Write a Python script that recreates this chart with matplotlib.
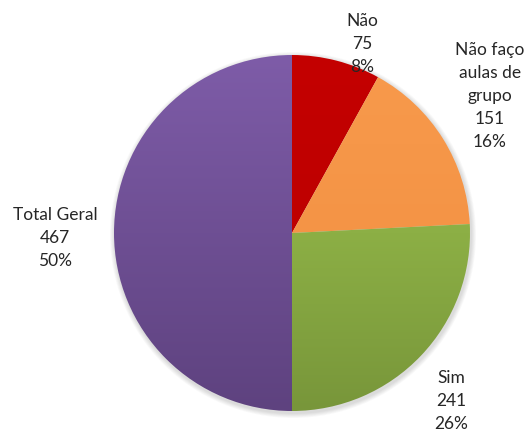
import numpy as np
import matplotlib.pyplot as plt
from matplotlib.colors import LinearSegmentedColormap

categorias = ["Não", "Não faço\naulas de\ngrupo", "Sim", "Total Geral"]
valores = [75, 151, 241, 467]
cores_topo = ["#C40000", "#F89A4C", "#A0C850", "#7E5CA8"]
cores_base = ["#B80000", "#F08E40", "#78963A", "#5E427F"]

# posicao dos rotulos (pixels, a partir do topo)
pos_rotulos = [(362, 44), (490, 96), (451, 401), (55, 238)]

plt.rcParams["font.family"] = ["Lato", "DejaVu Sans"]

fig = plt.figure(figsize=(5.3, 4.32), dpi=100)
ax = fig.add_axes([0, 0, 1, 1])

cx, cy, r = 292, 432 - 233, 178
fatias, _ = ax.pie(valores, center=(cx, cy), radius=r, startangle=90,
                   counterclock=False, frame=True)
ax.set_xlim(0, 530)
ax.set_ylim(0, 432)
ax.set_aspect("equal")
ax.axis("off")

# sombra leve atras da pizza
for k in range(6):
    ax.add_patch(plt.Circle((cx + 1, cy - 2), r + 1 + k * 0.8,
                            color="black", alpha=0.025, lw=0, zorder=0))

# degrade vertical em cada fatia (mais claro em cima)
grad = np.linspace(0, 1, 256).reshape(-1, 1)
for fatia, c1, c2 in zip(fatias, cores_topo, cores_base):
    fatia.set_facecolor("none")
    fatia.set_edgecolor("none")
    cmap = LinearSegmentedColormap.from_list("g", [c2, c1])
    im = ax.imshow(grad, cmap=cmap, extent=(cx - r, cx + r, cy - r, cy + r),
                   aspect="auto", origin="lower", zorder=1)
    im.set_clip_path(fatia)

total = sum(valores)
for nome, v, (x, y) in zip(categorias, valores, pos_rotulos):
    texto = f"{nome}\n{v}\n{round(v / total * 100)}%"
    ax.text(x, 432 - y, texto, ha="center", va="center", fontsize=12.5,
            color="#262626", linespacing=1.52, zorder=3)

fig.savefig("out.png", dpi=100, facecolor="white")
